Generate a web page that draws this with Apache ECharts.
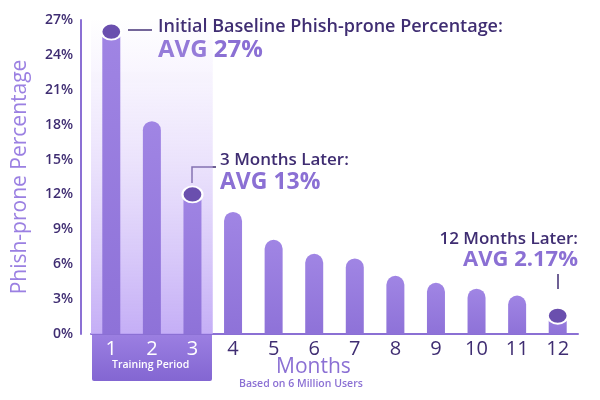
<!DOCTYPE html>
<html>
<head>
<meta charset="utf-8">
<script src="https://cdn.jsdelivr.net/npm/echarts@6/dist/echarts.min.js"></script>
<style>
  html, body { margin: 0; padding: 0; background: #fff; }
  #main { width: 600px; height: 400px; }
</style>
</head>
<body>
<div id="main"></div>
<script>
// data
const months = ['1', '2', '3', '4', '5', '6', '7', '8', '9', '10', '11', '12'];
const phishProne = [26.6, 18.3, 12.6, 10.5, 8.1, 6.9, 6.5, 5.0, 4.4, 3.9, 3.3, 2.17];
const markedIdx = [0, 2, 11];
const yTicks = [0, 3, 6, 9, 12, 15, 18, 21, 24, 27];

const dark = '#3f2d72';
const mid = '#8b70d4';

const chartDom = document.getElementById('main');
const myChart = echarts.init(chartDom, null, { renderer: 'canvas' });

const option = {
    animation: false,
    textStyle: { fontFamily: 'Open Sans' },
    grid: { left: 91, right: 22, top: 20, bottom: 66 },
    xAxis: {
        type: 'category',
        data: months.map((m, i) => i < 3
            ? { value: m, textStyle: { color: '#ffffff' } }
            : m),
        axisLine: { lineStyle: { color: mid, width: 2 } },
        axisTick: { show: false },
        axisLabel: { color: dark, fontSize: 20, margin: 5 }
    },
    yAxis: {
        type: 'value',
        min: yTicks[0],
        max: yTicks[yTicks.length - 1],
        interval: 3,
        offset: 10,
        name: 'Phish-prone Percentage',
        nameLocation: 'middle',
        nameGap: 50,
        nameTextStyle: { color: '#9b80e2', fontSize: 21 },
        axisLine: { show: true, lineStyle: { color: mid, width: 2 } },
        axisTick: { show: false },
        splitLine: { show: false },
        axisLabel: { color: dark, fontSize: 14, fontWeight: 600, formatter: '{value}%' }
    },
    series: [{
        type: 'bar',
        data: phishProne,
        barWidth: 18,
        itemStyle: {
            borderRadius: [9, 9, 0, 0],
            color: new echarts.graphic.LinearGradient(0, 0, 0, 1, [
                { offset: 0, color: '#a085e4' },
                { offset: 1, color: '#8e72d8' }
            ])
        },
        markArea: {
            silent: true,
            itemStyle: {
                color: new echarts.graphic.LinearGradient(0, 0, 0, 1, [
                    { offset: 0, color: 'rgba(220,205,250,0)' },
                    { offset: 0.2, color: 'rgba(220,205,250,0.25)' },
                    { offset: 1, color: 'rgba(190,165,245,0.9)' }
                ])
            },
            data: [[{ xAxis: '1' }, { xAxis: '3' }]]
        },
        markPoint: {
            symbol: 'circle',
            symbolSize: [20, 16],
            symbolOffset: [0, 7],
            label: { show: false },
            itemStyle: { color: '#6a4fae', borderColor: '#ffffff', borderWidth: 2 },
            data: markedIdx.map(i => ({ coord: [i, phishProne[i]] }))
        }
    }],
    graphic: [
        // training period box under the axis
        {
            type: 'rect', z: -10,
            shape: { x: 92, y: 333, width: 120, height: 48, r: [0, 0, 2, 2] },
            style: {
                fill: new echarts.graphic.LinearGradient(0, 0, 0, 1, [
                    { offset: 0, color: '#9c80e2' },
                    { offset: 1, color: '#8366d2' }
                ])
            }
        },
        {
            type: 'text', left: 112, top: 360,
            style: { text: 'Training Period', fill: '#ffffff', font: '600 10.5px "Open Sans"' }
        },
        {
            type: 'text', left: 276, top: 357,
            style: { text: 'Months', fill: mid, font: '500 21px "Open Sans"' }
        },
        {
            type: 'text', left: 239, top: 379,
            style: { text: 'Based on 6 Million Users', fill: mid, font: '600 10.5px "Open Sans"' }
        },
        // annotation 1
        {
            type: 'line', shape: { x1: 128, y1: 30, x2: 152, y2: 30 },
            style: { stroke: dark, lineWidth: 1.5 }
        },
        {
            type: 'text', left: 158, top: 18,
            style: { text: 'Initial Baseline Phish-prone Percentage:', fill: dark, font: '600 18px "Open Sans"' }
        },
        {
            type: 'text', left: 158, top: 38,
            style: { text: 'AVG 27%', fill: mid, font: 'bold 24px "Open Sans"' }
        },
        // annotation 2
        {
            type: 'polyline', shape: { points: [[192, 183], [192, 167], [216, 167]] },
            style: { stroke: dark, lineWidth: 1.5, fill: null }
        },
        {
            type: 'text', left: 220, top: 152,
            style: { text: '3 Months Later:', fill: dark, font: '600 17px "Open Sans"' }
        },
        {
            type: 'text', left: 220, top: 171,
            style: { text: 'AVG 13%', fill: mid, font: 'bold 23px "Open Sans"' }
        },
        // annotation 3
        {
            type: 'line', shape: { x1: 558, y1: 274, x2: 558, y2: 289 },
            style: { stroke: dark, lineWidth: 1.5 }
        },
        {
            type: 'text', right: 22, top: 231,
            style: { text: '12 Months Later:', fill: dark, font: '600 17px "Open Sans"' }
        },
        {
            type: 'text', right: 22, top: 249,
            style: { text: 'AVG 2.17%', fill: mid, font: 'bold 22px "Open Sans"' }
        }
    ]
};

myChart.setOption(option);
</script>
</body>
</html>
